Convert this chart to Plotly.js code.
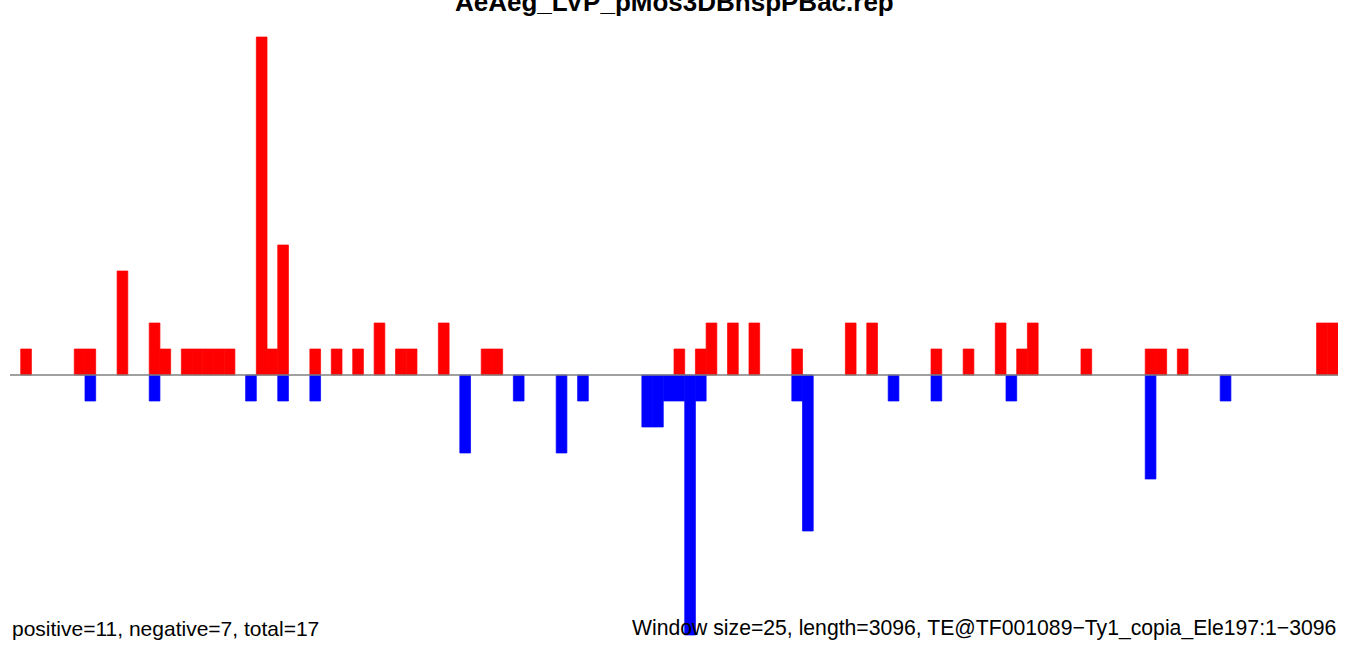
<!DOCTYPE html>
<html>
<head>
<meta charset="utf-8">
<script src="https://cdn.plot.ly/plotly-3.0.1.min.js"></script>
<style>html,body{margin:0;padding:0;background:#fff;}#chart{width:1350px;height:646px;}</style>
</head>
<body>
<div id="chart"></div>
<script>
// Window bin indices (window size 25 bp, 124 windows over 3096 bp)
const posBins = [1,6,7,10,13,14,16,17,18,19,20,23,24,25,28,30,32,34,36,37,40,44,45,62,64,65,67,69,73,78,80,86,89,92,94,95,100,106,107,109,122,123];
const posVals = [1,1,1,4,2,1,1,1,1,1,1,13,1,5,1,1,1,2,1,1,2,1,1,1,1,2,2,2,1,2,2,1,1,2,1,2,1,1,1,1,2,2];
const negBins = [7,13,22,25,28,42,47,51,53,59,60,61,62,63,64,73,74,82,86,93,106,113];
const negVals = [-1,-1,-1,-1,-1,-3,-1,-3,-1,-2,-2,-1,-1,-10,-1,-1,-6,-1,-1,-1,-4,-1];
const nBins = 124;
const titleText = "AeAeg_LVP_pMos3DBhspPBac.rep";
const leftText = "positive=11, negative=7, total=17";
const rightText = "Window size=25, length=3096, TE@TF001089\u2212Ty1_copia_Ele197:1\u22123096";

const font = "Liberation Sans, Arial, Helvetica, sans-serif";

const traces = [
  {type:'bar', x: posBins.map(b => b + 0.5), y: posVals, width: 1,
   marker:{color:'#ff0000', line:{width:0.7, color:'#ff0000'}}, hoverinfo:'skip'},
  {type:'bar', x: negBins.map(b => b + 0.5), y: negVals, width: 1,
   marker:{color:'#0000ff', line:{width:0.7, color:'#0000ff'}}, hoverinfo:'skip'}
];

const layout = {
  width:1350, height:646,
  margin:{l:10, r:12, t:0, b:0, pad:0},
  paper_bgcolor:'#fff', plot_bgcolor:'#fff',
  showlegend:false,
  barmode:'overlay',
  xaxis:{range:[0, nBins], showgrid:false, zeroline:false, showticklabels:false, ticks:'', showline:false, fixedrange:true},
  yaxis:{range:[-10.423, 14.423], showgrid:false, zeroline:false, showticklabels:false, ticks:'', showline:false, fixedrange:true},
  shapes:[{type:'line', xref:'paper', x0:0, x1:1, yref:'y', y0:0, y1:0, layer:'above',
           line:{color:'#808080', width:1.5}}],
  annotations:[
    {text:'<b>'+titleText+'</b>', xref:'paper', yref:'paper', x:0.5, y:0.9969, xanchor:'center', yanchor:'middle',
     showarrow:false, font:{family:font, size:26, color:'#000'}},
    {text:leftText, xref:'paper', yref:'paper', x:0, y:0.0271, xanchor:'left', yanchor:'middle',
     showarrow:false, font:{family:font, size:21, color:'#000'}},
    {text:rightText, xref:'paper', yref:'paper', x:1, y:0.0271, xanchor:'right', yanchor:'middle',
     showarrow:false, font:{family:font, size:21.2, color:'#000'}}
  ]
};

Plotly.newPlot('chart', traces, layout, {staticPlot:true, displayModeBar:false});
</script>
</body>
</html>
